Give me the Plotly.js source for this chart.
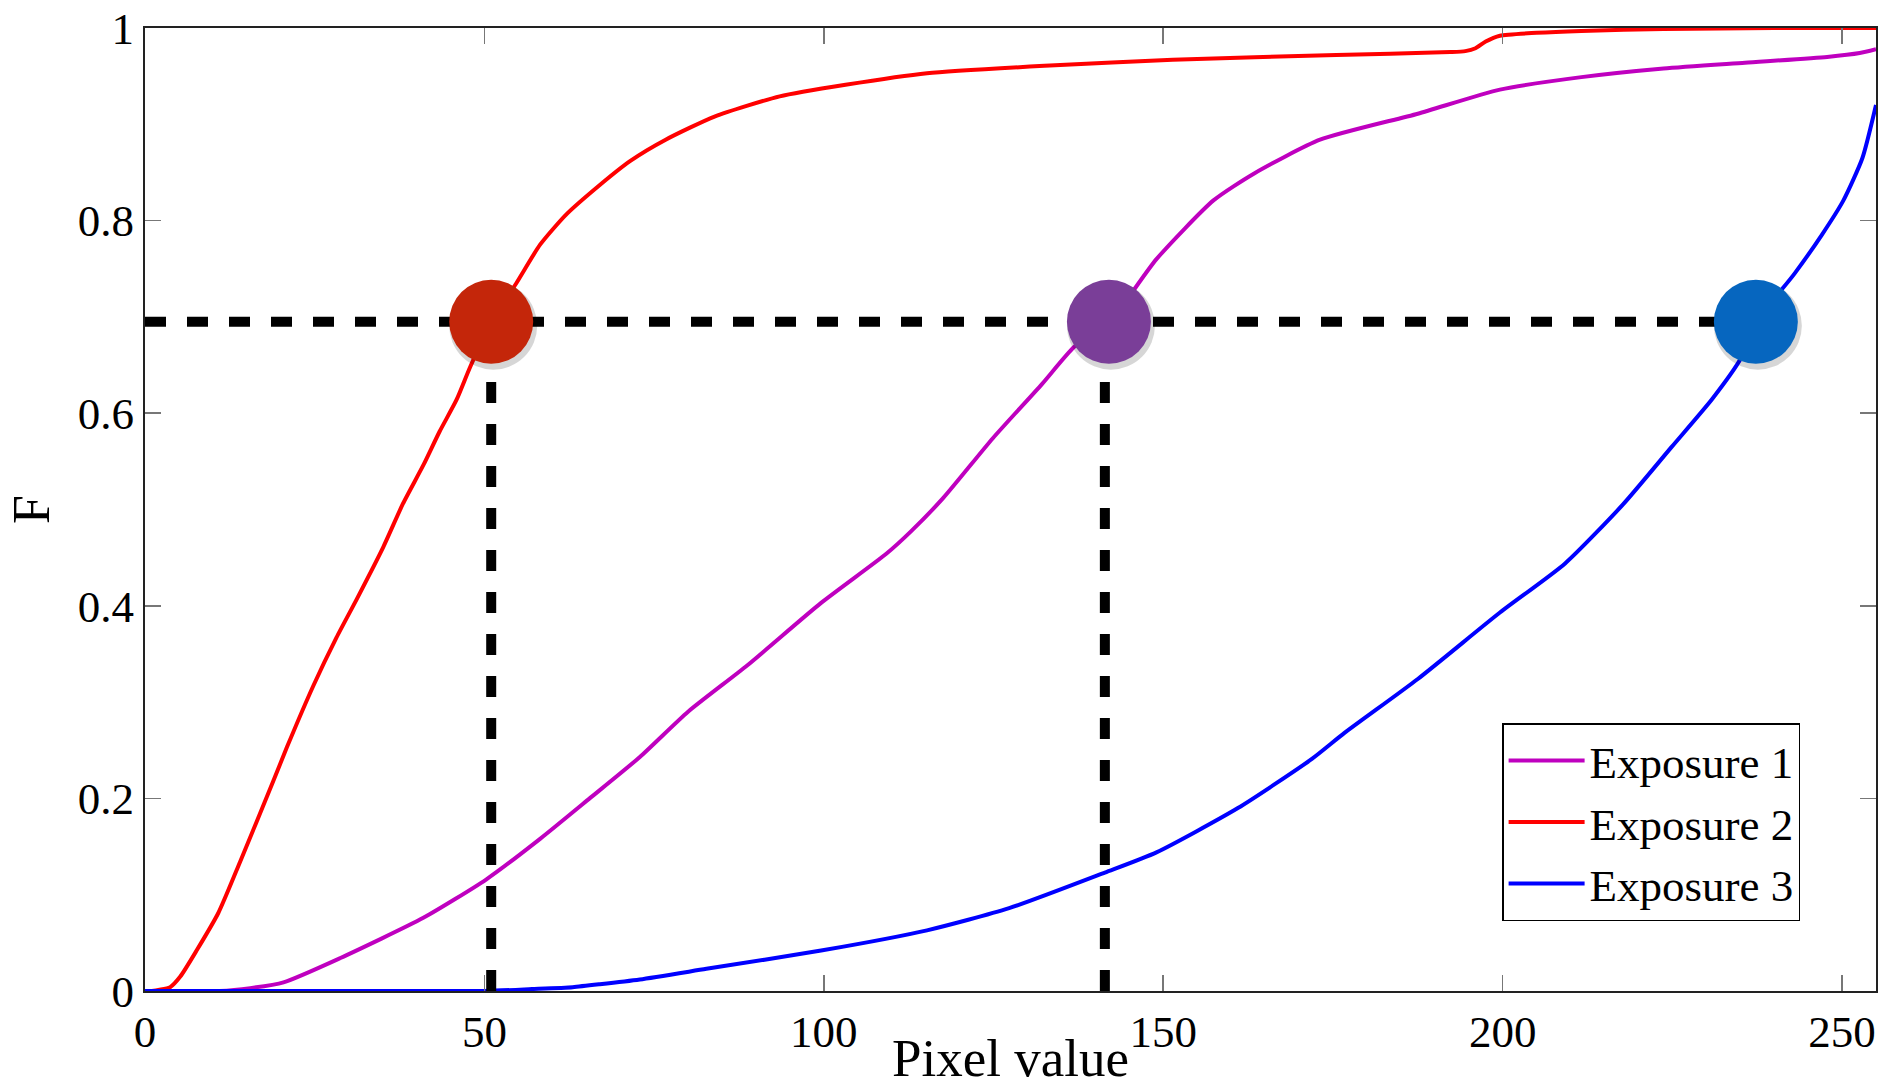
<!DOCTYPE html>
<html>
<head>
<meta charset="utf-8">
<script src="https://cdn.plot.ly/plotly-3.0.1.min.js"></script>
<style>html,body{margin:0;padding:0;background:#fff;}#chart{width:1883px;height:1090px;}</style>
</head>
<body>
<div id="chart"></div>
<script>
// ---- data ----
const seriesNames = ["Exposure 1", "Exposure 2", "Exposure 3"];
const xTitle = "Pixel value";
const yTitle = "F";

const exp1X = [0, 11, 15.5, 20.4, 28.7, 41, 50.3, 58.2, 65.5, 72.9, 80, 88.7, 99.6, 109.2, 112.8, 117.6, 124.9, 132.1, 136.9, 142, 149, 157.4, 163.4, 173.1, 187.5, 199.6, 211.6, 223.7, 235.7, 247.8, 252.6, 255];
const exp1F = [0, 0, 0.003, 0.009, 0.034, 0.076, 0.116, 0.158, 0.2, 0.243, 0.29, 0.338, 0.403, 0.454, 0.477, 0.512, 0.574, 0.630, 0.669, 0.694, 0.76, 0.821, 0.849, 0.884, 0.911, 0.936, 0.949, 0.958, 0.964, 0.970, 0.974, 0.978];

const exp2X = [0, 1, 3.7, 5.2, 7.6, 10.8, 14, 18.9, 20.9, 24.8, 28.2, 31.2, 35.1, 38, 41, 43.4, 45.9, 47.9, 51, 54.7, 58.2, 62, 67, 71.5, 76.7, 83.9, 93.5, 103.2, 115.2, 133.3, 151.4, 175.5, 192.3, 194.5, 196, 197.5, 199.6, 205, 211.6, 223.7, 240, 255];
const exp2F = [0, 0, 0.004, 0.015, 0.042, 0.081, 0.134, 0.218, 0.253, 0.317, 0.367, 0.407, 0.461, 0.506, 0.546, 0.581, 0.614, 0.648, 0.695, 0.735, 0.775, 0.806, 0.837, 0.862, 0.884, 0.908, 0.929, 0.941, 0.953, 0.961, 0.967, 0.972, 0.975, 0.976, 0.979, 0.986, 0.992, 0.995, 0.997, 0.999, 1.0, 1.0];

const exp3X = [0, 50, 57, 63, 67, 72.9, 82.7, 99.6, 115.2, 127.3, 141.4, 149, 161, 171.9, 176.7, 187.5, 199.6, 209.2, 217.7, 224.9, 230.9, 235.1, 237.3, 243, 247, 250.2, 253, 255];
const exp3F = [0, 0, 0.002, 0.004, 0.007, 0.012, 0.023, 0.042, 0.063, 0.086, 0.123, 0.144, 0.190, 0.241, 0.268, 0.324, 0.393, 0.444, 0.505, 0.565, 0.615, 0.657, 0.694, 0.745, 0.785, 0.821, 0.865, 0.92];

// highlighted points where F = 0.695 crosses each curve
const markX = [51, 142, 237.3];
const markF = [0.695, 0.695, 0.695];
// dashed guide lines
const guideHX = [0, 237.3];
const guideHF = [0.695, 0.695];
const guideV1X = [51, 51];
const guideV2X = [141.4, 141.4];
const guideVF = [0, 0.695];

const xTicks = [0, 50, 100, 150, 200, 250];
const yTicks = [0, 0.2, 0.4, 0.6, 0.8, 1];
const yTickText = ["0", "0.2", "0.4", "0.6", "0.8", "1"];

// ---- styles ----
const FONT = "'Liberation Serif', 'Times New Roman', serif";
const lineColors = ["#bf00bf", "#ff0000", "#0000ff"];
const markColors = ["#c4260a", "#7a3e98", "#0666bf"];
const dashStyle = {color: "#000", width: 10, dash: "21px,21px"};

const traces = [
  {x: exp1X, y: exp1F, name: seriesNames[0], mode: "lines", line: {color: lineColors[0], width: 4, shape: "spline", smoothing: 0.6}},
  {x: exp2X, y: exp2F, name: seriesNames[1], mode: "lines", line: {color: lineColors[1], width: 4, shape: "spline", smoothing: 0.6}},
  {x: exp3X, y: exp3F, name: seriesNames[2], mode: "lines", line: {color: lineColors[2], width: 4, shape: "spline", smoothing: 0.6}},
  {x: guideHX, y: guideHF, mode: "lines", line: dashStyle, showlegend: false, hoverinfo: "skip"},
  {x: guideV1X, y: guideVF, mode: "lines", line: dashStyle, showlegend: false, hoverinfo: "skip"},
  {x: guideV2X, y: guideVF, mode: "lines", line: dashStyle, showlegend: false, hoverinfo: "skip"},
  // soft shadow under the markers (drawn on an overlay axis shifted a few pixels)
  {x: markX, y: markF, xaxis: "x2", yaxis: "y2", mode: "markers", showlegend: false, hoverinfo: "skip",
   marker: {size: 88, color: "rgba(0,0,0,0.16)", line: {width: 0}}},
  {x: markX, y: markF, xaxis: "x3", yaxis: "y3", mode: "markers", showlegend: false,
   marker: {size: 84, color: markColors, line: {width: 0}}}
];

const W = 1883, H = 1090;
const mar = {l: 145, r: 7, t: 28, b: 99};
const plotW = W - mar.l - mar.r, plotH = H - mar.t - mar.b;
const xr = [0, 255], yr = [0, 1];
const shx = 2 * (xr[1] - xr[0]) / plotW;   // 2px right
const shy = 4 * (yr[1] - yr[0]) / plotH;   // 4px down

const axBase = {
  showgrid: false, zeroline: false, showline: true, linecolor: "#222", linewidth: 2,
  mirror: "ticks", ticks: "inside", ticklen: 16, tickwidth: 1.5, tickcolor: "#777",
  tickfont: {family: FONT, size: 45, color: "#000"}
};

const layout = {
  width: W, height: H, autosize: false,
  margin: mar,
  paper_bgcolor: "#fff", plot_bgcolor: "#fff",
  font: {family: FONT, color: "#000"},
  showlegend: true,
  xaxis: Object.assign({}, axBase, {
    range: xr, tickvals: xTicks, ticktext: xTicks.map(String)
  }),
  yaxis: Object.assign({}, axBase, {
    range: yr, tickvals: yTicks, ticktext: yTickText,
    title: {text: yTitle, font: {family: FONT, size: 52, color: "#000"}, standoff: 12}
  }),
  xaxis2: {overlaying: "x", range: [xr[0] - shx, xr[1] - shx], visible: false, fixedrange: true},
  yaxis2: {overlaying: "y", range: [yr[0] + shy, yr[1] + shy], visible: false, fixedrange: true},
  xaxis3: {overlaying: "x", range: xr, visible: false, fixedrange: true},
  yaxis3: {overlaying: "y", range: yr, visible: false, fixedrange: true},
  annotations: [{
    text: xTitle, xref: "paper", yref: "paper", x: 0.5, y: -(1058 - (H - mar.b)) / plotH,
    xanchor: "center", yanchor: "middle", showarrow: false,
    font: {family: FONT, size: 53, color: "#000"}
  }],
  legend: {
    x: 0.784, y: 0.278, xanchor: "left", yanchor: "top",
    bgcolor: "#fff", bordercolor: "#000", borderwidth: 1.5,
    font: {family: FONT, size: 45, color: "#000"},
    tracegroupgap: 0, itemwidth: 76
  }
};

Plotly.newPlot("chart", traces, layout, {displayModeBar: false, staticPlot: true});
</script>
</body>
</html>
